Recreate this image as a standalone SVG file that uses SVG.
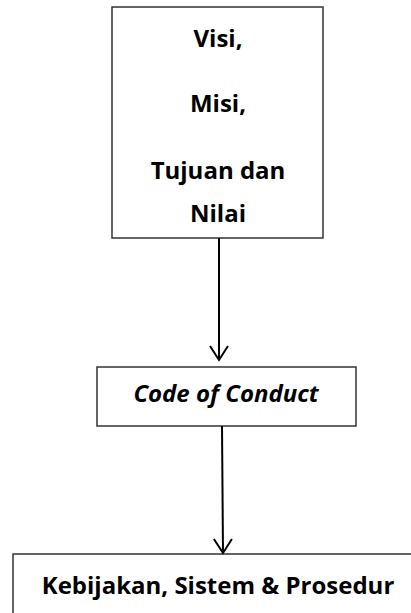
<svg xmlns="http://www.w3.org/2000/svg" width="411" height="613" viewBox="0 0 411 613">
<style>
.box{fill:#fff;stroke:#333;stroke-width:1.5}
.t{font-family:"Open Sans","Noto Sans",sans-serif;font-weight:bold;font-size:24px;fill:#000;text-anchor:middle}
.c{fill:none;stroke:#000;stroke-width:2}
</style>
<defs>
<marker id="arr" markerWidth="20" markerHeight="20" refX="15" refY="10" orient="auto" markerUnits="userSpaceOnUse" viewBox="0 0 20 20">
<path d="M1,1 L15,10 L1,19" fill="none" stroke="#000" stroke-width="2"/>
</marker>
</defs>
<g id="node-visi">
<rect class="box" x="112" y="7" width="211" height="231"/>
<text class="t" x="218" y="47">Visi,</text>
<text class="t" x="218" y="112">Misi,</text>
<text class="t" x="218" y="179">Tujuan dan</text>
<text class="t" x="218" y="222">Nilai</text>
</g>
<g id="node-code">
<rect class="box" x="97" y="367" width="259" height="59"/>
<text class="t" x="226" y="402" font-style="italic" font-size="25">Code of Conduct</text>
</g>
<g id="node-kebijakan">
<rect class="box" x="13" y="554" width="410" height="70"/>
<text class="t" x="218" y="594">Kebijakan, Sistem &amp; Prosedur</text>
</g>
<g id="connectors">
<line class="c" x1="219" y1="238" x2="219" y2="360" marker-end="url(#arr)"/>
<line class="c" x1="222" y1="426" x2="223" y2="553" marker-end="url(#arr)"/>
</g>
</svg>
